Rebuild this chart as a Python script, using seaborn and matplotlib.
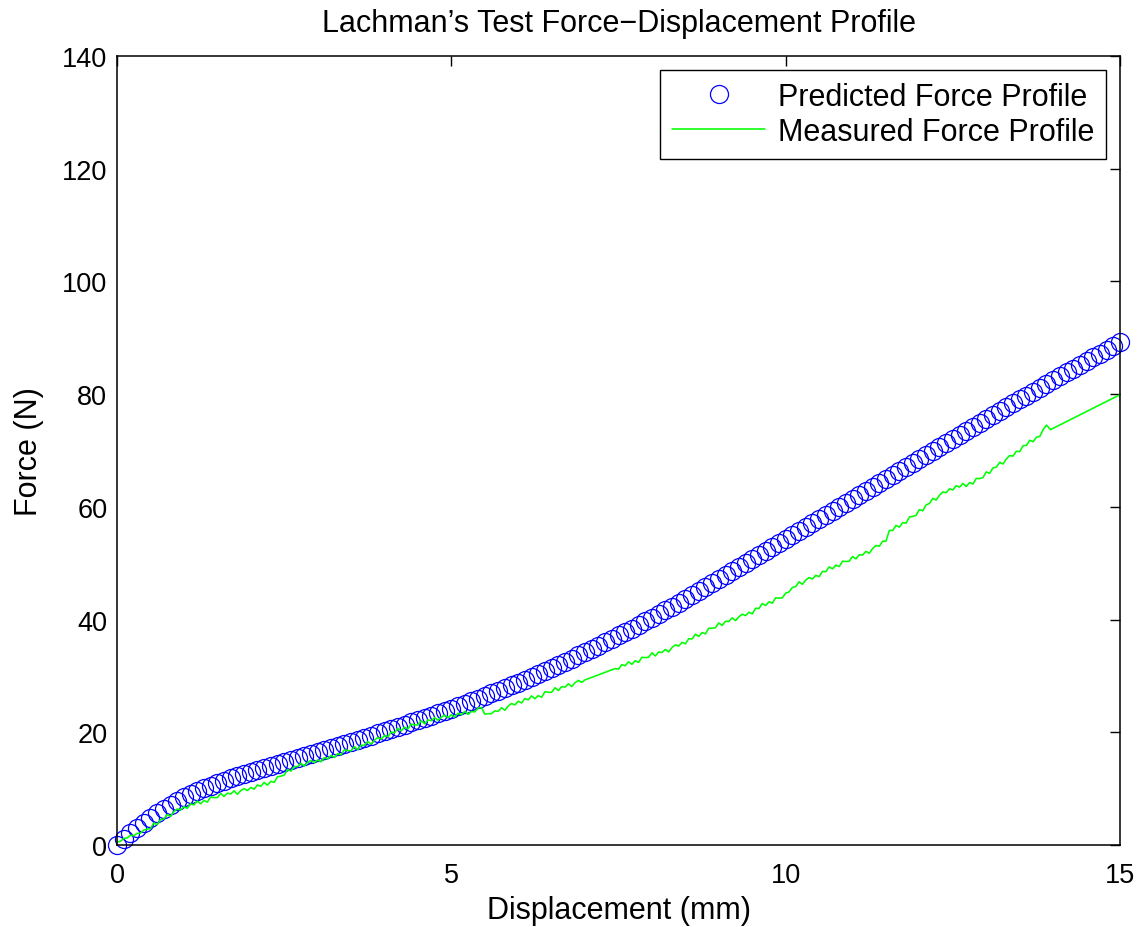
import numpy as np
import pandas as pd
import matplotlib
matplotlib.use("Agg")
import matplotlib.pyplot as plt
import seaborn as sns

# Predicted force profile, sampled every 0.1 mm from 0 to 15 mm
predicted_disp = np.round(np.arange(0, 151) * 0.1, 2)
predicted_force = [
    0.00, 1.05, 2.05, 3.00, 3.90, 4.77, 5.60, 6.39, 7.13, 7.81,
    8.43, 9.00, 9.53, 10.03, 10.50, 10.95, 11.38, 11.80, 12.21, 12.61,
    13.00, 13.37, 13.73, 14.08, 14.43, 14.77, 15.11, 15.45, 15.80, 16.15,
    16.50, 16.85, 17.20, 17.56, 17.92, 18.29, 18.66, 19.04, 19.42, 19.81,
    20.20, 20.58, 20.97, 21.36, 21.76, 22.16, 22.56, 22.97, 23.38, 23.79,
    24.20, 24.63, 25.07, 25.51, 25.96, 26.42, 26.88, 27.35, 27.83, 28.31,
    28.80, 29.30, 29.81, 30.33, 30.86, 31.40, 31.94, 32.49, 33.05, 33.62,
    34.20, 34.78, 35.37, 35.97, 36.57, 37.18, 37.79, 38.41, 39.03, 39.66,
    40.30, 40.96, 41.63, 42.31, 42.99, 43.68, 44.37, 45.07, 45.77, 46.48,
    47.20, 47.91, 48.62, 49.33, 50.04, 50.75, 51.46, 52.17, 52.88, 53.59,
    54.30, 55.01, 55.72, 56.43, 57.14, 57.85, 58.56, 59.27, 59.98, 60.69,
    61.40, 62.11, 62.82, 63.53, 64.24, 64.95, 65.66, 66.37, 67.08, 67.79,
    68.50, 69.21, 69.92, 70.63, 71.34, 72.05, 72.76, 73.47, 74.18, 74.89,
    75.60, 76.29, 76.98, 77.67, 78.36, 79.05, 79.74, 80.43, 81.12, 81.81,
    82.50, 83.17, 83.84, 84.51, 85.18, 85.85, 86.52, 87.19, 87.86, 88.53,
    89.20,
]

# Measured force, first run of samples: 0 to 7.0 mm every 0.05 mm
measured_disp_a = np.round(np.arange(0, 141) * 0.05, 2)
measured_force_a = [
    0.50, 0.65, 1.15, 1.25, 1.70, 1.65, 2.05, 2.10, 2.65, 2.80,
    2.90, 3.90, 3.60, 4.50, 4.60, 5.40, 5.10, 5.90, 6.40, 6.20,
    6.80, 6.50, 7.30, 7.10, 7.80, 7.30, 7.90, 7.60, 8.50, 8.40,
    8.40, 9.15, 8.60, 9.20, 9.05, 9.60, 9.00, 9.65, 10.00, 9.65,
    10.20, 9.90, 10.65, 10.40, 11.10, 10.60, 11.30, 11.10, 12.10, 12.20,
    12.40, 13.40, 13.10, 13.90, 13.90, 14.50, 14.00, 14.65, 15.00, 14.60,
    15.10, 14.75, 15.50, 15.25, 15.90, 15.50, 16.20, 16.00, 16.90, 16.75,
    16.70, 17.45, 16.90, 17.70, 17.70, 18.35, 17.90, 18.60, 19.05, 18.80,
    19.40, 19.20, 20.05, 19.90, 20.70, 20.25, 20.90, 20.60, 21.45, 21.30,
    21.30, 22.05, 21.50, 22.20, 22.05, 22.60, 22.10, 22.70, 23.00, 22.60,
    23.10, 22.70, 23.40, 23.10, 23.70, 23.15, 23.70, 23.60, 24.30, 24.40,
    23.20, 23.30, 23.30, 23.80, 23.70, 24.35, 23.90, 24.65, 25.10, 24.85,
    25.50, 25.20, 26.00, 25.75, 26.45, 25.95, 26.50, 26.20, 27.20, 27.10,
    27.10, 27.90, 27.40, 28.10, 28.00, 28.60, 28.10, 28.80, 29.20, 28.85,
    29.30,
]

# Measured force, second run of samples: 7.45 to 13.9 mm every 0.05 mm
measured_disp_b = np.round(7.45 + np.arange(0, 130) * 0.05, 2)
measured_force_b = [
    31.30, 31.20, 32.00, 31.80, 32.50, 32.05, 32.70, 32.40, 33.30, 33.25,
    33.30, 34.10, 33.55, 34.25, 34.15, 34.70, 34.25, 35.05, 35.50, 35.30,
    35.95, 35.70, 36.60, 36.55, 37.40, 37.00, 37.70, 37.45, 38.45, 38.45,
    38.55, 39.40, 38.95, 39.70, 39.65, 40.30, 39.80, 40.50, 40.95, 40.70,
    41.30, 41.00, 42.00, 41.95, 42.85, 42.50, 43.15, 42.90, 43.85, 43.80,
    43.85, 44.70, 44.90, 45.70, 45.85, 46.70, 46.25, 47.00, 47.45, 47.20,
    47.85, 47.60, 48.55, 48.50, 49.35, 49.00, 49.65, 49.40, 50.35, 50.30,
    50.35, 51.20, 50.75, 51.50, 51.45, 52.10, 51.75, 52.60, 53.15, 53.00,
    53.90, 53.90, 55.80, 55.80, 56.70, 56.40, 57.20, 57.10, 58.20, 58.30,
    58.50, 59.50, 59.30, 60.35, 60.60, 61.50, 61.20, 62.05, 62.65, 62.50,
    63.20, 63.00, 63.75, 63.50, 64.15, 63.60, 64.30, 64.05, 65.05, 65.00,
    65.20, 66.20, 65.95, 66.90, 67.05, 67.90, 67.60, 68.50, 69.10, 69.00,
    69.85, 69.80, 70.85, 70.90, 71.80, 71.55, 72.35, 72.50, 73.70, 74.50,
]

# Last recorded samples after the drop near 14 mm
measured_disp_c = [13.96, 15.00, 15.00]
measured_force_c = [73.70, 79.90, 78.80]

predicted = pd.DataFrame({"disp": predicted_disp, "force": predicted_force})
measured = pd.DataFrame({
    "disp": np.concatenate([measured_disp_a, measured_disp_b, measured_disp_c]),
    "force": np.concatenate([measured_force_a, measured_force_b, measured_force_c]),
})

sns.set_theme(style="white")
plt.rcParams["font.family"] = ["Liberation Sans", "DejaVu Sans"]
plt.rcParams["text.color"] = "black"
plt.rcParams["axes.labelcolor"] = "black"
plt.rcParams["axes.edgecolor"] = "black"
plt.rcParams["axes.linewidth"] = 1.1

fig = plt.figure(figsize=(11.43, 9.28), dpi=100)
ax = fig.add_axes([0.1024, 0.0884, 0.8775, 0.8502])

sns.lineplot(data=predicted, x="disp", y="force", ax=ax, estimator=None, sort=False,
             linestyle="none", marker="o", markersize=13, markerfacecolor="none",
             markeredgecolor="#0000ff", markeredgewidth=0.9, color="#0000ff",
             clip_on=False, label="Predicted Force Profile")
sns.lineplot(data=measured, x="disp", y="force", ax=ax, estimator=None, sort=False,
             color="#00ff00", linewidth=1.15, label="Measured Force Profile")

ax.set_xlim(0, 15)
ax.set_ylim(0, 140)
ax.set_xticks([0, 5, 10, 15])
ax.set_yticks(np.arange(0, 141, 20))
ax.tick_params(direction="in", length=7, width=1.0, top=True, right=True,
               labelsize=19.5, colors="black")
ax.tick_params(axis="x", pad=12)
ax.tick_params(axis="y", pad=7)
for side in ["top", "right", "bottom", "left"]:
    ax.spines[side].set_visible(True)
    ax.spines[side].set_color("black")

ax.set_xlabel("Displacement (mm)", fontsize=22, labelpad=5)
ax.set_ylabel("Force (N)", fontsize=22, labelpad=13)
ax.set_title("Lachman\u2019s Test Force\u2212Displacement Profile", fontsize=22,
             pad=18, color="black")

leg = ax.legend(loc="upper right", fontsize=22, frameon=True, fancybox=False,
                edgecolor="black", framealpha=1, borderaxespad=0.45,
                handlelength=3.05, handletextpad=0.4, borderpad=0.4,
                labelspacing=0.17)
leg.get_frame().set_linewidth(1.0)

fig.savefig("out.png", dpi=100)
